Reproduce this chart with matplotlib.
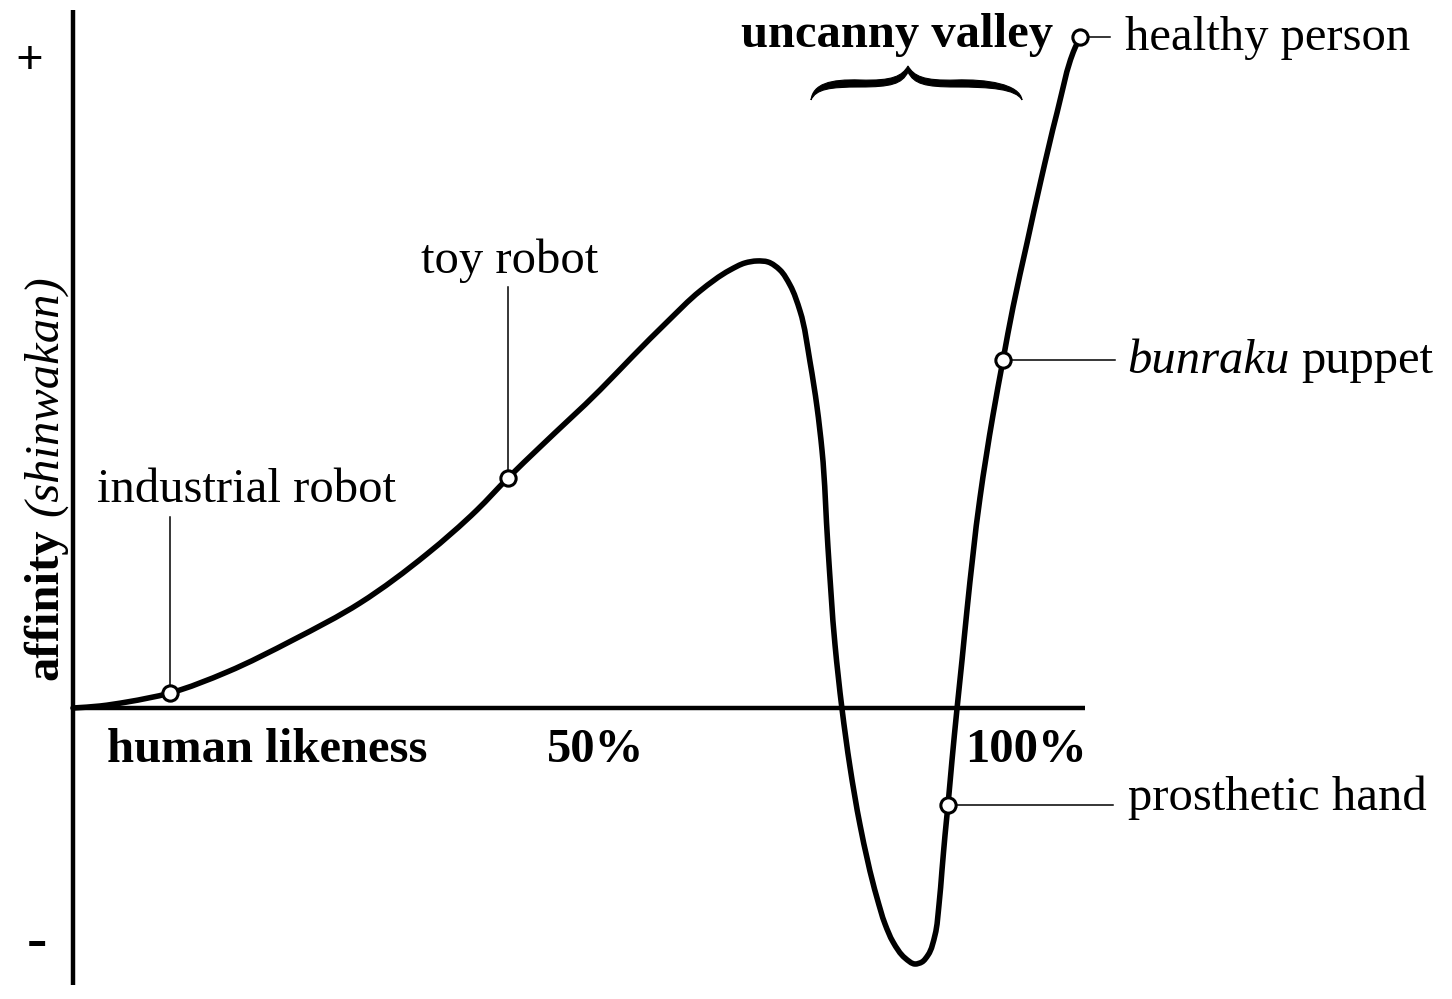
"""Mori's uncanny valley: affinity (shinwakan) against human likeness."""

import matplotlib
matplotlib.use("Agg")
import matplotlib.pyplot as plt
import numpy as np
from matplotlib.path import Path
from matplotlib.patches import PathPatch

# curve: human likeness (% of axis) vs affinity (+ ~ 100)
likeness = [0.00, 2.67, 5.34, 9.58, 15.22, 21.74, 28.36, 34.98, 39.92, 42.98,
            46.15, 52.08, 55.34, 58.70, 61.96, 64.92, 66.40, 67.59, 68.68, 69.86,
            70.85, 71.84, 72.83, 73.52, 74.01, 74.60, 75.30, 75.99, 76.78, 77.77,
            79.45, 80.24, 81.03, 82.21, 83.20, 83.89, 84.49, 85.18, 85.57, 85.87,
            86.17, 86.46, 86.86, 87.35, 87.85, 88.34, 89.62, 90.91, 91.90, 92.89,
            94.27, 95.65, 97.23, 99.01, 99.51]
affinity = [0.00, 0.31, 0.93, 2.32, 5.57, 10.53, 16.25, 23.84, 30.65, 35.60,
            40.40, 49.23, 54.49, 59.75, 64.55, 67.80, 68.89, 69.20, 69.04, 67.80,
            65.48, 61.46, 53.56, 46.59, 39.94, 24.92, 9.75, -0.15, -9.13, -18.11,
            -29.41, -33.44, -36.22, -38.70, -39.63, -39.32, -38.24, -35.14, -30.50, -25.08,
            -19.66, -15.02, -8.05, -0.15, 7.43, 15.17, 32.51, 45.36, 53.87, 62.07,
            71.98, 81.73, 92.11, 102.17, 103.87]

# labelled examples on the curve
marker_names = ["industrial robot", "toy robot", "prosthetic hand",
                "bunraku puppet", "healthy person"]
marker_x = [9.58, 42.98, 86.46, 91.90, 99.51]
marker_y = [2.32, 35.60, -15.02, 53.87, 103.87]

axis_ticks = ["50%", "100%"]

# layout in image pixels (origin of the chart at 73, 708)
X0, Y0 = 73, 708
SX, SY = 10.12, 6.46
W, H = 1452, 999


def px(x, y):
    """image pixel -> data units"""
    return (x - X0) / SX, (Y0 - y) / SY


def smooth_path(xs, ys):
    """Smooth cubic curve through the read points (chord-length tangents)."""
    scale = np.array([SX, SY])
    q = np.column_stack([xs, ys]) * scale
    d = np.diff(q, axis=0)
    h = np.hypot(d[:, 0], d[:, 1])
    s = d / h[:, None]
    tan = np.empty_like(q)
    tan[0], tan[-1] = s[0], s[-1]
    for i in range(1, len(q) - 1):
        w0, w1 = h[i], h[i - 1]
        tan[i] = (w0 * s[i - 1] + w1 * s[i]) / (w0 + w1)
    verts = [q[0]]
    codes = [Path.MOVETO]
    for i in range(len(q) - 1):
        verts += [q[i] + tan[i] * h[i] / 3, q[i + 1] - tan[i + 1] * h[i] / 3, q[i + 1]]
        codes += [Path.CURVE4] * 3
    return Path(np.array(verts) / scale, codes)


SERIF = ["Liberation Serif", "DejaVu Serif"]
FS = 35
plt.rcParams["font.family"] = SERIF
plt.rcParams["font.size"] = FS

fig = plt.figure(figsize=(W / 100, H / 100), dpi=100)
ax = fig.add_axes([0, 0, 1, 1])
ax.set_xlim(px(0, 0)[0], px(W, 0)[0])
ax.set_ylim(px(0, H)[1], px(0, 0)[1])
ax.axis("off")

# axes
ax.plot([0, 0], [px(0, 985)[1], px(0, 10)[1]], color="black", lw=3.2, solid_capstyle="butt")
ax.plot([0, 100], [0, 0], color="black", lw=3.2, solid_capstyle="butt")

# the curve
ax.add_patch(PathPatch(smooth_path(likeness, affinity), facecolor="none",
                       edgecolor="black", lw=4, joinstyle="round",
                       capstyle="round", zorder=3))

# leader lines: vertical ones end at a pixel row, horizontal ones at a pixel column
leaders = {
    "industrial robot": ("v", 517),
    "toy robot": ("v", 287),
    "prosthetic hand": ("h", 1113),
    "bunraku puppet": ("h", 1115),
    "healthy person": ("h", 1110),
}
label_pos = {
    "industrial robot": (97, 502),
    "toy robot": (421, 273),
    "prosthetic hand": (1128, 810),
    "bunraku puppet": (1127, 373),
    "healthy person": (1125, 50),
}
for name, mx, my in zip(marker_names, marker_x, marker_y):
    kind, end = leaders[name]
    if kind == "v":
        ax.plot([mx, mx], [my, px(0, end)[1]], color="black", lw=1.1, zorder=2)
    else:
        ax.plot([mx, px(end, 0)[0]], [my, my], color="black", lw=1.1, zorder=2)
    tx, ty = px(*label_pos[name])
    if name == "bunraku puppet":
        t = ax.text(tx, ty, "bunraku", style="italic", ha="left", va="baseline")
        fig.canvas.draw()
        bb = t.get_window_extent()
        ax.text(px(bb.x1 + 12, 0)[0], ty, "puppet", ha="left", va="baseline")
    else:
        ax.text(tx, ty, name, ha="left", va="baseline")

ax.plot(marker_x, marker_y, "o", ms=11, mfc="white", mec="black", mew=2.2, zorder=4)

# axis texts
ax.text(*px(107, 762), "human likeness", fontweight="bold", ha="left", va="baseline")
ax.text(*px(547, 762), axis_ticks[0], fontweight="bold", ha="left", va="baseline")
ax.text(*px(965, 762), axis_ticks[1], fontweight="bold", ha="left", va="baseline")
ax.text(*px(29, 62), "+", fontweight="bold", ha="center", va="center")
ax.text(*px(37, 943), "-", fontweight="bold", ha="center", va="center", fontsize=44)

# rotated y label: bold "affinity" then italic "(shinwakan)"
t1 = ax.text(*px(57, 680), "affinity", rotation=90, rotation_mode="anchor",
             ha="left", va="baseline", fontweight="bold")
fig.canvas.draw()
bb = t1.get_window_extent()
ax.text(*px(57, H - bb.y1 - 12), "(shinwakan)", rotation=90, rotation_mode="anchor",
        ha="left", va="baseline", style="italic")

# uncanny valley title and brace
ax.text(*px(741, 47), "uncanny valley", fontweight="bold", ha="left", va="baseline")
brace_px = [
    (811, 100),
    (813, 84), (830, 79), (860, 80),
    (893, 81), (902, 76), (908, 66),
    (914, 76), (923, 81), (956, 80),
    (986, 79), (1020, 84), (1022, 100),
    (1016, 89), (990, 87), (956, 87),
    (925, 87), (914, 84), (908, 72),
    (902, 84), (891, 87), (860, 87),
    (830, 87), (816, 89), (811, 100),
]
codes = [Path.MOVETO] + [Path.CURVE4] * 24
brace = Path([px(*p) for p in brace_px], codes)
ax.add_patch(PathPatch(brace, facecolor="black", edgecolor="black", lw=0.8))

fig.savefig("out.png", dpi=100)
